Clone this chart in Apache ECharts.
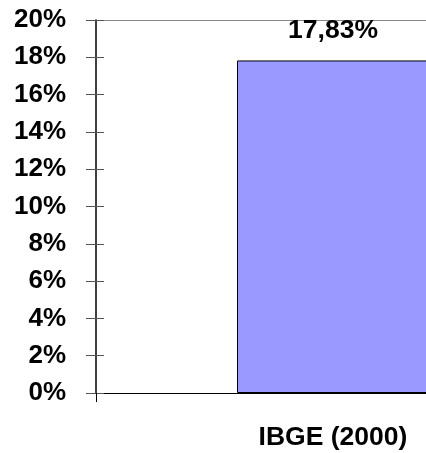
<!DOCTYPE html>
<html>
<head>
<meta charset="utf-8">
<script src="https://cdn.jsdelivr.net/npm/echarts@6/dist/echarts.min.js"></script>
<style>
  html, body { margin: 0; padding: 0; background: #fff; }
  #chart { width: 426px; height: 453px; }
</style>
</head>
<body>
<div id="chart"></div>
<script>
  const categories = ['IBGE (2000)'];
  const values = [17.83];
  const yMin = 0;
  const yMax = 20;
  const yStep = 2;

  const font = 'Liberation Sans, Arial, sans-serif';

  const chart = echarts.init(document.getElementById('chart'));

  chart.setOption({
    animation: false,
    grid: {
      left: 96,
      right: -144,
      top: 20,
      bottom: 60,
      outerBoundsMode: 'none'
    },
    xAxis: [{
      type: 'category',
      data: categories,
      axisLine: { onZero: false, lineStyle: { color: '#000', width: 1 } },
      axisTick: { show: true, length: 9, lineStyle: { color: '#000' } },
      axisLabel: {
        margin: 31,
        color: '#000',
        fontFamily: font,
        fontWeight: 'bold',
        fontSize: 26.5
      }
    }, {
      // top border of the plot area
      type: 'category',
      position: 'top',
      data: categories,
      axisLine: { onZero: false, lineStyle: { color: '#888', width: 1 } },
      axisTick: { show: false },
      axisLabel: { show: false }
    }],
    yAxis: [{
      type: 'value',
      min: yMin,
      max: yMax,
      interval: yStep,
      axisLine: { show: true, onZero: false, lineStyle: { color: '#000', width: 1.5 } },
      axisTick: { show: true, length: 10, lineStyle: { color: '#555' } },
      splitLine: { show: false },
      axisLabel: {
        margin: 30,
        color: '#000',
        fontFamily: font,
        fontWeight: 'bold',
        fontSize: 26,
        formatter: '{value}%'
      }
    }, {
      // inner half of the crossing ticks
      type: 'value',
      position: 'left',
      min: yMin,
      max: yMax,
      interval: yStep,
      axisLine: { show: false },
      axisTick: { show: true, inside: true, length: 8, lineStyle: { color: '#555' } },
      splitLine: { show: false },
      axisLabel: { show: false }
    }],
    series: [{
      type: 'bar',
      data: values,
      barWidth: 192,
      itemStyle: {
        color: '#9999FF',
        borderColor: '#000',
        borderWidth: 1
      },
      label: {
        show: true,
        position: 'top',
        distance: 16,
        color: '#000',
        fontFamily: font,
        fontWeight: 'bold',
        fontSize: 26.5,
        formatter: function (p) {
          return p.value.toFixed(2).replace('.', ',') + '%';
        }
      }
    }]
  });
</script>
</body>
</html>
